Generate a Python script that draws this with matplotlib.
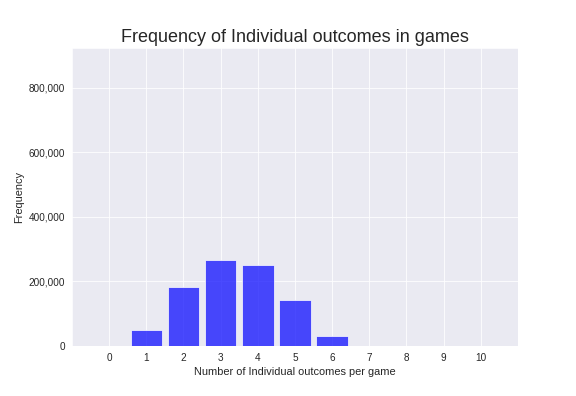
import matplotlib
matplotlib.use("Agg")
import matplotlib.pyplot as plt
import seaborn as sns
from matplotlib.ticker import FuncFormatter

# outcomes per game -> number of games
outcomes = [0, 1, 2, 3, 4, 5, 6, 7, 8, 9, 10]
counts = [0, 47500, 183000, 266500, 251500, 142500, 31000, 0, 0, 0, 0]
total_games = 924000

sns.set_style("darkgrid")
plt.rcParams["font.family"] = ["Liberation Sans", "DejaVu Sans"]

fig = plt.figure(figsize=(8, 5.5), dpi=72)
ax = fig.add_axes([0.125, 0.127, 0.774, 0.752])

ax.bar(outcomes, counts, width=0.85, color="blue", alpha=0.7)

ax.set_xlim(-1, 11)
ax.set_ylim(0, total_games)
ax.set_xticks(outcomes)
ax.set_yticks([0, 200000, 400000, 600000, 800000])
ax.yaxis.set_major_formatter(FuncFormatter(lambda v, p: f"{int(v):,}"))
ax.tick_params(labelsize=10, colors="#262626")

ax.set_xlabel("Number of Individual outcomes per game", fontsize=11)
ax.set_ylabel("Frequency", fontsize=11)
ax.set_title("Frequency of Individual outcomes in games", fontsize=18)

fig.savefig("out.png", dpi=72)
